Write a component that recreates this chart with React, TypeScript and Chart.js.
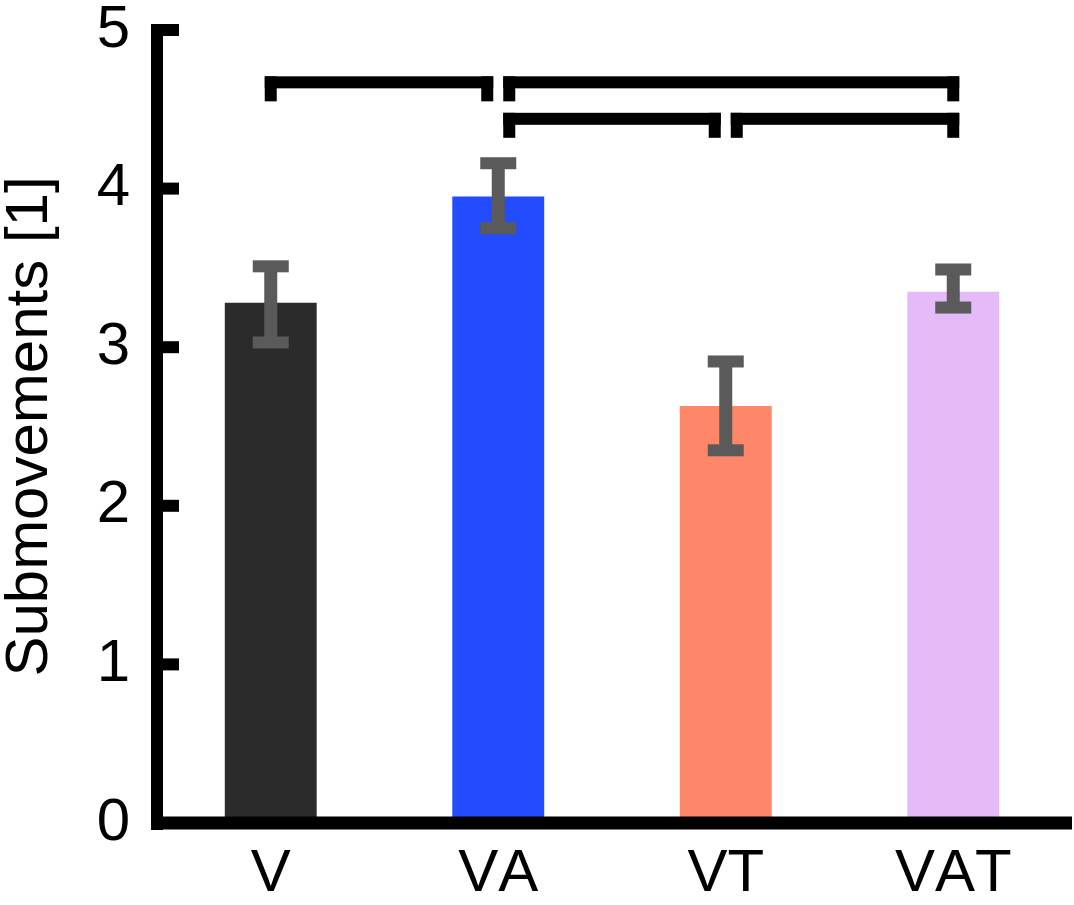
import React, { useEffect, useRef } from 'react';
import { Chart, registerables } from 'chart.js';

Chart.register(...registerables);

const categories = ['V', 'VA', 'VT', 'VAT'];
const means = [3.28, 3.95, 2.63, 3.35];
const upperErr = [3.51, 4.16, 2.91, 3.49];
const lowerErr = [3.03, 3.75, 2.35, 3.25];
const barColors = ['#2b2b2b', '#234bff', '#ff8769', '#e4baf9'];
const yTicks = [0, 1, 2, 3, 4, 5];

// significance brackets
const bracketFrom = ['V', 'VA', 'VA', 'VT'];
const bracketTo = ['VA', 'VAT', 'VT', 'VAT'];
const bracketLevel = [4.67, 4.67, 4.44, 4.44];

const FONT = '"Liberation Sans", Arial, sans-serif';

const overlayPlugin = {
  id: 'overlay',
  beforeDraw(chart: any) {
    // reference text is set without kerning
    chart.ctx.fontKerning = 'none';
  },
  afterDatasetsDraw(chart: any) {
    const { ctx, chartArea, scales } = chart;
    const x = scales.x;
    const y = scales.y;
    ctx.save();

    // error bars
    ctx.fillStyle = '#5a5a5a';
    categories.forEach((_, i) => {
      const cx = x.getPixelForValue(i);
      const yt = y.getPixelForValue(upperErr[i]);
      const yb = y.getPixelForValue(lowerErr[i]);
      ctx.fillRect(cx - 6.5, yt, 13, yb - yt);
      ctx.fillRect(cx - 18, yt - 6, 36, 12);
      ctx.fillRect(cx - 18, yb - 6, 36, 12);
    });

    // axes with inward ticks
    ctx.fillStyle = '#000';
    const ax = chartArea.left;
    const y0 = y.getPixelForValue(0);
    const yTop = y.getPixelForValue(yTicks[yTicks.length - 1]);
    ctx.fillRect(ax - 6, yTop - 6, 12, y0 - yTop + 13);
    ctx.fillRect(ax - 6, y0 - 6.5, chart.width - 2 - (ax - 6), 13);
    yTicks.forEach((v) => {
      const py = y.getPixelForValue(v);
      ctx.fillRect(ax - 6, py - 6, 28, 12);
    });

    // significance brackets
    const last = categories.length - 1;
    const legX = (name: string, side: number) => {
      const i = categories.indexOf(name);
      const off = i === 0 || i === last ? 0 : 11 * side;
      return x.getPixelForValue(i) + off;
    };
    bracketFrom.forEach((from, k) => {
      const x1 = legX(from, 1);
      const x2 = legX(bracketTo[k], -1);
      const yc = y.getPixelForValue(bracketLevel[k]);
      ctx.fillRect(x1 - 6, yc - 6, x2 - x1 + 12, 12);
      ctx.fillRect(x1 - 6, yc - 6, 12, 25);
      ctx.fillRect(x2 - 6, yc - 6, 12, 25);
    });

    ctx.restore();
  },
};

const App: React.FC = () => {
  const chartRef = useRef<HTMLCanvasElement>(null);
  const chartInstance = useRef<Chart | null>(null);

  useEffect(() => {
    if (!chartRef.current) return;
    if (chartInstance.current) chartInstance.current.destroy();
    const ctx = chartRef.current.getContext('2d');
    if (!ctx) return;

    chartInstance.current = new Chart(ctx, {
      type: 'bar',
      data: {
        labels: categories,
        datasets: [
          {
            data: means,
            backgroundColor: barColors,
            borderWidth: 0,
            barPercentage: 0.404,
            categoryPercentage: 1,
          },
        ],
      },
      options: {
        responsive: true,
        maintainAspectRatio: false,
        animation: false,
        layout: { padding: { top: 0, right: 7, bottom: 0, left: 0 } },
        plugins: {
          legend: { display: false },
          tooltip: { enabled: false },
        },
        scales: {
          x: {
            grid: { display: false, drawTicks: false },
            border: { display: false },
            ticks: {
              color: '#000',
              padding: 21,
              maxRotation: 0,
              font: { family: FONT, size: 60, lineHeight: 1 },
            },
            afterFit: (scale: any) => {
              scale.height = 82;
            },
          },
          y: {
            min: 0,
            max: 5,
            grid: { display: false, drawTicks: false },
            border: { display: false },
            ticks: {
              stepSize: 1,
              color: '#000',
              padding: 27,
              font: { family: FONT, size: 60, lineHeight: 1 },
            },
            title: {
              display: true,
              text: 'Submovements [1]',
              color: '#000',
              padding: { top: 0, bottom: 0 },
              font: { family: FONT, size: 60, lineHeight: 1 },
            },
            afterFit: (scale: any) => {
              scale.width = 157;
              scale.paddingTop = 30;
            },
          },
        },
      },
      plugins: [overlayPlugin],
    });

    return () => {
      if (chartInstance.current) {
        chartInstance.current.destroy();
        chartInstance.current = null;
      }
    };
  }, []);

  return (
    <div style={{ position: 'absolute', left: 0, top: 0, width: 1074, height: 905, background: '#fff' }}>
      <canvas ref={chartRef}></canvas>
    </div>
  );
};

export default App;
